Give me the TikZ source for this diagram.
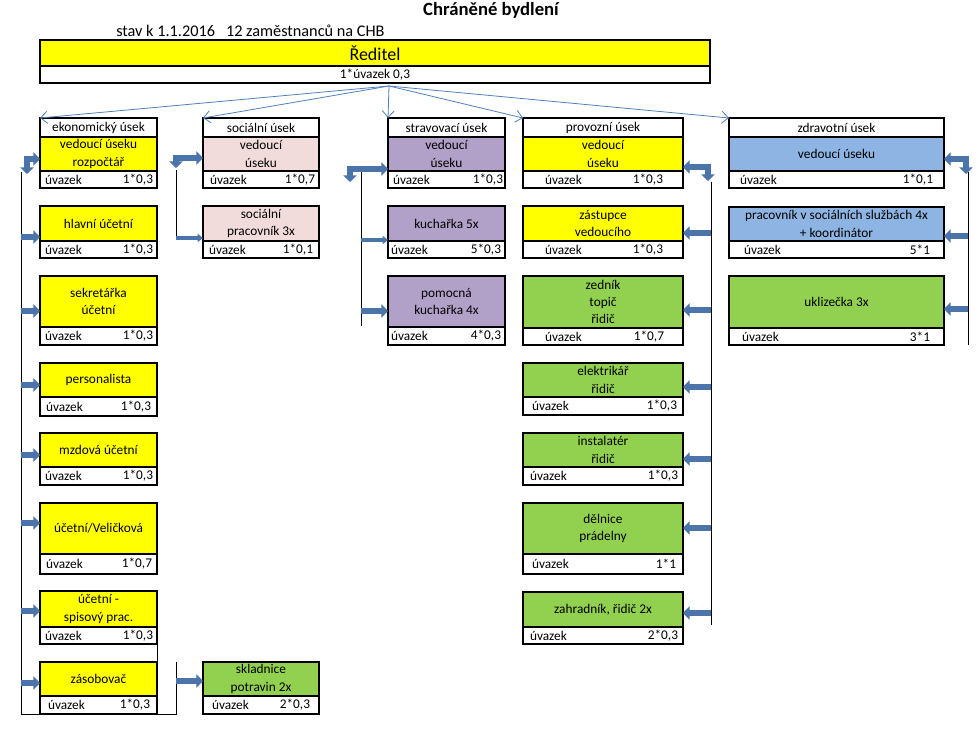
\documentclass[tikz,border=0pt]{standalone}
\usepackage{fontspec}
\setmainfont{Carlito}
\usetikzlibrary{arrows.meta,calc}
\definecolor{cyellow}{HTML}{FFFF00}
\definecolor{cpink}{HTML}{F2DCDB}
\definecolor{cpurple}{HTML}{B1A0C7}
\definecolor{cgreen}{HTML}{92D050}
\definecolor{cblue}{HTML}{8DB4E2}
\definecolor{arrowblue}{HTML}{4A74AA}
\definecolor{lineblue}{HTML}{4F81BD}
\tikzset{
  cell/.style={inner sep=0pt, outer sep=0pt, align=center, font=\fontsize{10}{12.9}\selectfont},
  small/.style={font=\fontsize{10}{12}\selectfont, inner sep=0pt, outer sep=0pt},
  boxline/.style={line width=1.6pt, line join=miter},
  divline/.style={line width=0.8pt},
  vline/.style={line width=0.7pt},
  barrow/.style={line width=4pt, draw=arrowblue, -{Triangle[length=5pt,width=10pt]}},
  sarrow/.style={line width=2.6pt, draw=arrowblue, -{Triangle[length=4pt,width=6pt]}},
  bbarrow/.style={line width=4pt, draw=arrowblue, {Triangle[length=5pt,width=10pt]}-{Triangle[length=5pt,width=10pt]}},
  thinarrow/.style={draw=lineblue, line width=0.6pt, -{Straight Barb[length=5pt,width=9pt]}},
}
\newif\ifhashead
\def\lo{5}\def\ro{4}
% #1 name, #2 x1, #3 x2, #4 ytop, #5 ymid, #6 ybot, #7 fill, #8 text, #9 value
\newcommand\ubox[9]{%
  \node[cell, fill=#7, minimum width={(#3-#2)*0.75pt}, minimum height={(#5-#4)*0.75pt}, anchor=north west] (#1) at (#2,#4) {#8};
  \node[cell, fill=white, minimum width={(#3-#2)*0.75pt}, minimum height={(#6-#5)*0.75pt}, anchor=north west] (#1u) at (#2,#5) {};
  \node[small, anchor=west] (#1ul) at ([xshift=\lo*0.75pt]#1u.west) {úvazek};
  \node[small, anchor=east] (#1ur) at ([xshift=-\ro*0.75pt]#1u.east) {#9};
  \draw[divline] (#1.south west) -- (#1.south east);
  \ifhashead
    \draw[divline] (#1h.south west) -- (#1h.south east);
    \draw[boxline] (#1h.north west) rectangle (#1u.south east);
  \else
    \draw[boxline] (#1.north west) rectangle (#1u.south east);
  \fi
  \global\hasheadfalse
}
% #1 box name, #2 x1, #3 x2, #4 ytop, #5 ybot, #6 text
\newcommand\headcell[6]{%
  \node[cell, fill=white, minimum width={(#3-#2)*0.75pt}, minimum height={(#5-#4)*0.75pt}, anchor=north west] (#1h) at (#2,#4) {#6};
  \global\hasheadtrue
}
\begin{document}
\begin{tikzpicture}[x=0.75pt,y=-0.75pt]
\path[use as bounding box, fill=white] (0,0) rectangle (980,745);

% title
\node[font=\bfseries\fontsize{14}{16}\selectfont, inner sep=0pt] (title) at (491,10) {Chráněné bydlení};
\node[font=\fontsize{12.2}{14}\selectfont, inner sep=0pt, anchor=west] (stav) at (116,31) {stav k 1.1.2016\ \ \ 12 zaměstnanců na CHB};

% director
\node[cell, fill=cyellow, minimum width={670*0.75pt}, minimum height={26*0.75pt}, anchor=north west, font=\fontsize{13.5}{15}\selectfont] (red) at (40,40) {Ředitel};
\node[cell, fill=white, minimum width={670*0.75pt}, minimum height={17*0.75pt}, anchor=north west] (redu) at (40,66) {1*úvazek 0,3};
\draw[divline] (red.south west) -- (red.south east);
\draw[boxline] (red.north west) rectangle (redu.south east);

% ekonomicky usek
\headcell{ek1}{40}{157}{118}{137}{ekonomický úsek}
\def\lo{5}\def\ro{4}
\ubox{ek1}{40}{157}{137}{171}{188}{cyellow}{vedoucí úseku\\rozpočtář}{1*0,3}
\ubox{ek2}{40}{157}{206}{241}{258}{cyellow}{hlavní účetní}{1*0,3}
\ubox{ek3}{40}{157}{276}{327}{345}{cyellow}{sekretářka\\účetní}{1*0,3}
\def\lo{6}\def\ro{6}
\ubox{ek4}{40}{157}{363}{397}{416}{cyellow}{personalista}{1*0,3}
\def\lo{5}\def\ro{4}
\ubox{ek5}{40}{157}{433}{467}{485}{cyellow}{mzdová účetní}{1*0,3}
\def\lo{6}\def\ro{5}
\ubox{ek6}{40}{157}{503}{554}{574}{cyellow}{účetní/Veličková}{1*0,7}
\def\lo{5}\def\ro{4}
\ubox{ek7}{40}{157}{591}{627}{644}{cyellow}{účetní -\\spisový prac.}{1*0,3}
\def\lo{8}\def\ro{7}
\ubox{ek8}{40}{157}{662}{696}{714}{cyellow}{zásobovač}{1*0,3}

% socialni usek
\headcell{so1}{203}{319}{118}{137}{sociální úsek}
\def\lo{7}\def\ro{4}
\ubox{so1}{203}{319}{137}{171}{188}{cpink}{vedoucí\\úseku}{1*0,7}
\def\lo{6}\def\ro{6}
\ubox{so2}{203}{319}{206}{241}{258}{cpink}{sociální\\pracovník 3x}{1*0,1}
\def\lo{9}\def\ro{9}
\ubox{sk}{203}{319}{662}{696}{714}{cgreen}{skladnice\\potravin 2x}{2*0,3}

% stravovaci usek
\headcell{st1}{388}{505}{118}{137}{stravovací úsek}
\def\lo{5}\def\ro{2}
\ubox{st1}{388}{505}{137}{171}{188}{cpurple}{vedoucí\\úseku}{1*0,3}
\def\lo{3}\def\ro{4}
\ubox{st2}{388}{505}{206}{241}{258}{cpurple}{kuchařka 5x}{5*0,3}
\ubox{st3}{388}{505}{276}{327}{345}{cpurple}{pomocná\\kuchařka 4x}{4*0,3}

% provozni usek
\headcell{pr1}{523}{683}{118}{137}{provozní úsek}
\def\lo{22}\def\ro{20}
\ubox{pr1}{523}{683}{137}{171}{188}{cyellow}{vedoucí\\úseku}{1*0,3}
\ubox{pr2}{523}{683}{206}{241}{258}{cyellow}{zástupce\\vedoucího}{1*0,3}
\def\lo{22}\def\ro{19}
\ubox{pr3}{523}{683}{276}{328}{345}{cgreen}{zedník\\topič\\řidič}{1*0,7}
\def\lo{9}\def\ro{6}
\ubox{pr4}{523}{683}{363}{397}{415}{cgreen}{elektrikář\\řidič}{1*0,3}
\def\lo{7}\def\ro{5}
\ubox{pr5}{523}{683}{433}{467}{485}{cgreen}{instalatér\\řidič}{1*0,3}
\def\lo{9}\def\ro{7}
\ubox{pr6}{523}{683}{503}{554}{574}{cgreen}{dělnice\\prádelny}{1*1}
\def\lo{7}\def\ro{5}
\ubox{pr7}{523}{683}{592}{627}{644}{cgreen}{zahradník, řidič 2x}{2*0,3}

% zdravotni usek
\headcell{zd1}{729}{944}{118}{137}{zdravotní úsek}
\def\lo{11}\def\ro{11}
\ubox{zd1}{729}{944}{137}{171}{188}{cblue}{vedoucí úseku}{1*0,1}
\def\lo{15}\def\ro{14}
\ubox{zd2}{729}{944}{207}{241}{258}{cblue}{pracovník v sociálních službách 4x\\+ koordinátor}{5*1}
\def\lo{13}\def\ro{14}
\ubox{zd3}{729}{944}{276}{328}{345}{cgreen}{uklizečka 3x}{3*1}

% top connectors
\coordinate (hub) at (389,86);
\foreach \n in {ek1h,so1h,st1h,pr1h,zd1h}
  \draw[thinarrow] (hub) -- (\n.north west);

% ekonomicky links
\coordinate (ekT) at (21,172);
\coordinate (ekB) at (21,714);
\coordinate (skB) at (176,714);
\coordinate (skT) at (176,662);
\coordinate (ekbend) at (27,174);
\draw[vline] (ekT) -- (ekB) -- (skB) -- (skT);
\draw[vline] (ek7u.south east) -- (ek8.north east);
\draw[bbarrow] (ek1.west |- 0,159) -| (ekbend);
\foreach \n/\y in {ek2/237,ek3/311,ek4/385,ek5/455,ek6/523,ek7/611,ek8/683}
  \draw[barrow] (ekT |- 0,\y) -- (\n.west |- 0,\y);
\draw[barrow] (skT |- 0,681) -- (sk.west |- 0,681);

% socialni links
\coordinate (soT) at (176,170);
\coordinate (soL) at (176,238);
\coordinate (sobend) at (176,168);
\draw[vline] (soT) -- (soL);
\draw[bbarrow] (so1.west |- 0,158) -| (sobend);
\draw[sarrow] (soL) -- (so2.west |- soL);

% stravovaci links
\coordinate (stT) at (361,170);
\coordinate (stB) at (361,326);
\coordinate (stbend) at (350,182);
\draw[vline] (stT) -- (stB);
\draw[bbarrow] (st1.west |- 0,169) -| (stbend);
\draw[sarrow] (stT |- 0,240) -- (st2.west |- 0,240);
\draw[barrow] (stT |- 0,311) -- (st3.west |- 0,311);

% provozni links
\coordinate (prT) at (711,182);
\coordinate (prB) at (711,625);
\coordinate (prbend) at (708,181);
\draw[vline] (prT) -- (prB);
\draw[bbarrow] (pr1.east |- 0,167) -| (prbend);
\foreach \n/\y in {pr2/233,pr3/310,pr4/387,pr5/459,pr6/528,pr7/613}
  \draw[barrow] (prT |- 0,\y) -- (\n.east |- 0,\y);

% zdravotni links
\coordinate (zdT) at (968,172);
\coordinate (zdB) at (968,345);
\coordinate (zdbend) at (966,174);
\draw[vline] (zdT) -- (zdB);
\draw[bbarrow] (zd1.east |- 0,159) -| (zdbend);
\foreach \n/\y in {zd2/236,zd3/309}
  \draw[barrow] (zdT |- 0,\y) -- (\n.east |- 0,\y);
\end{tikzpicture}
\end{document}
